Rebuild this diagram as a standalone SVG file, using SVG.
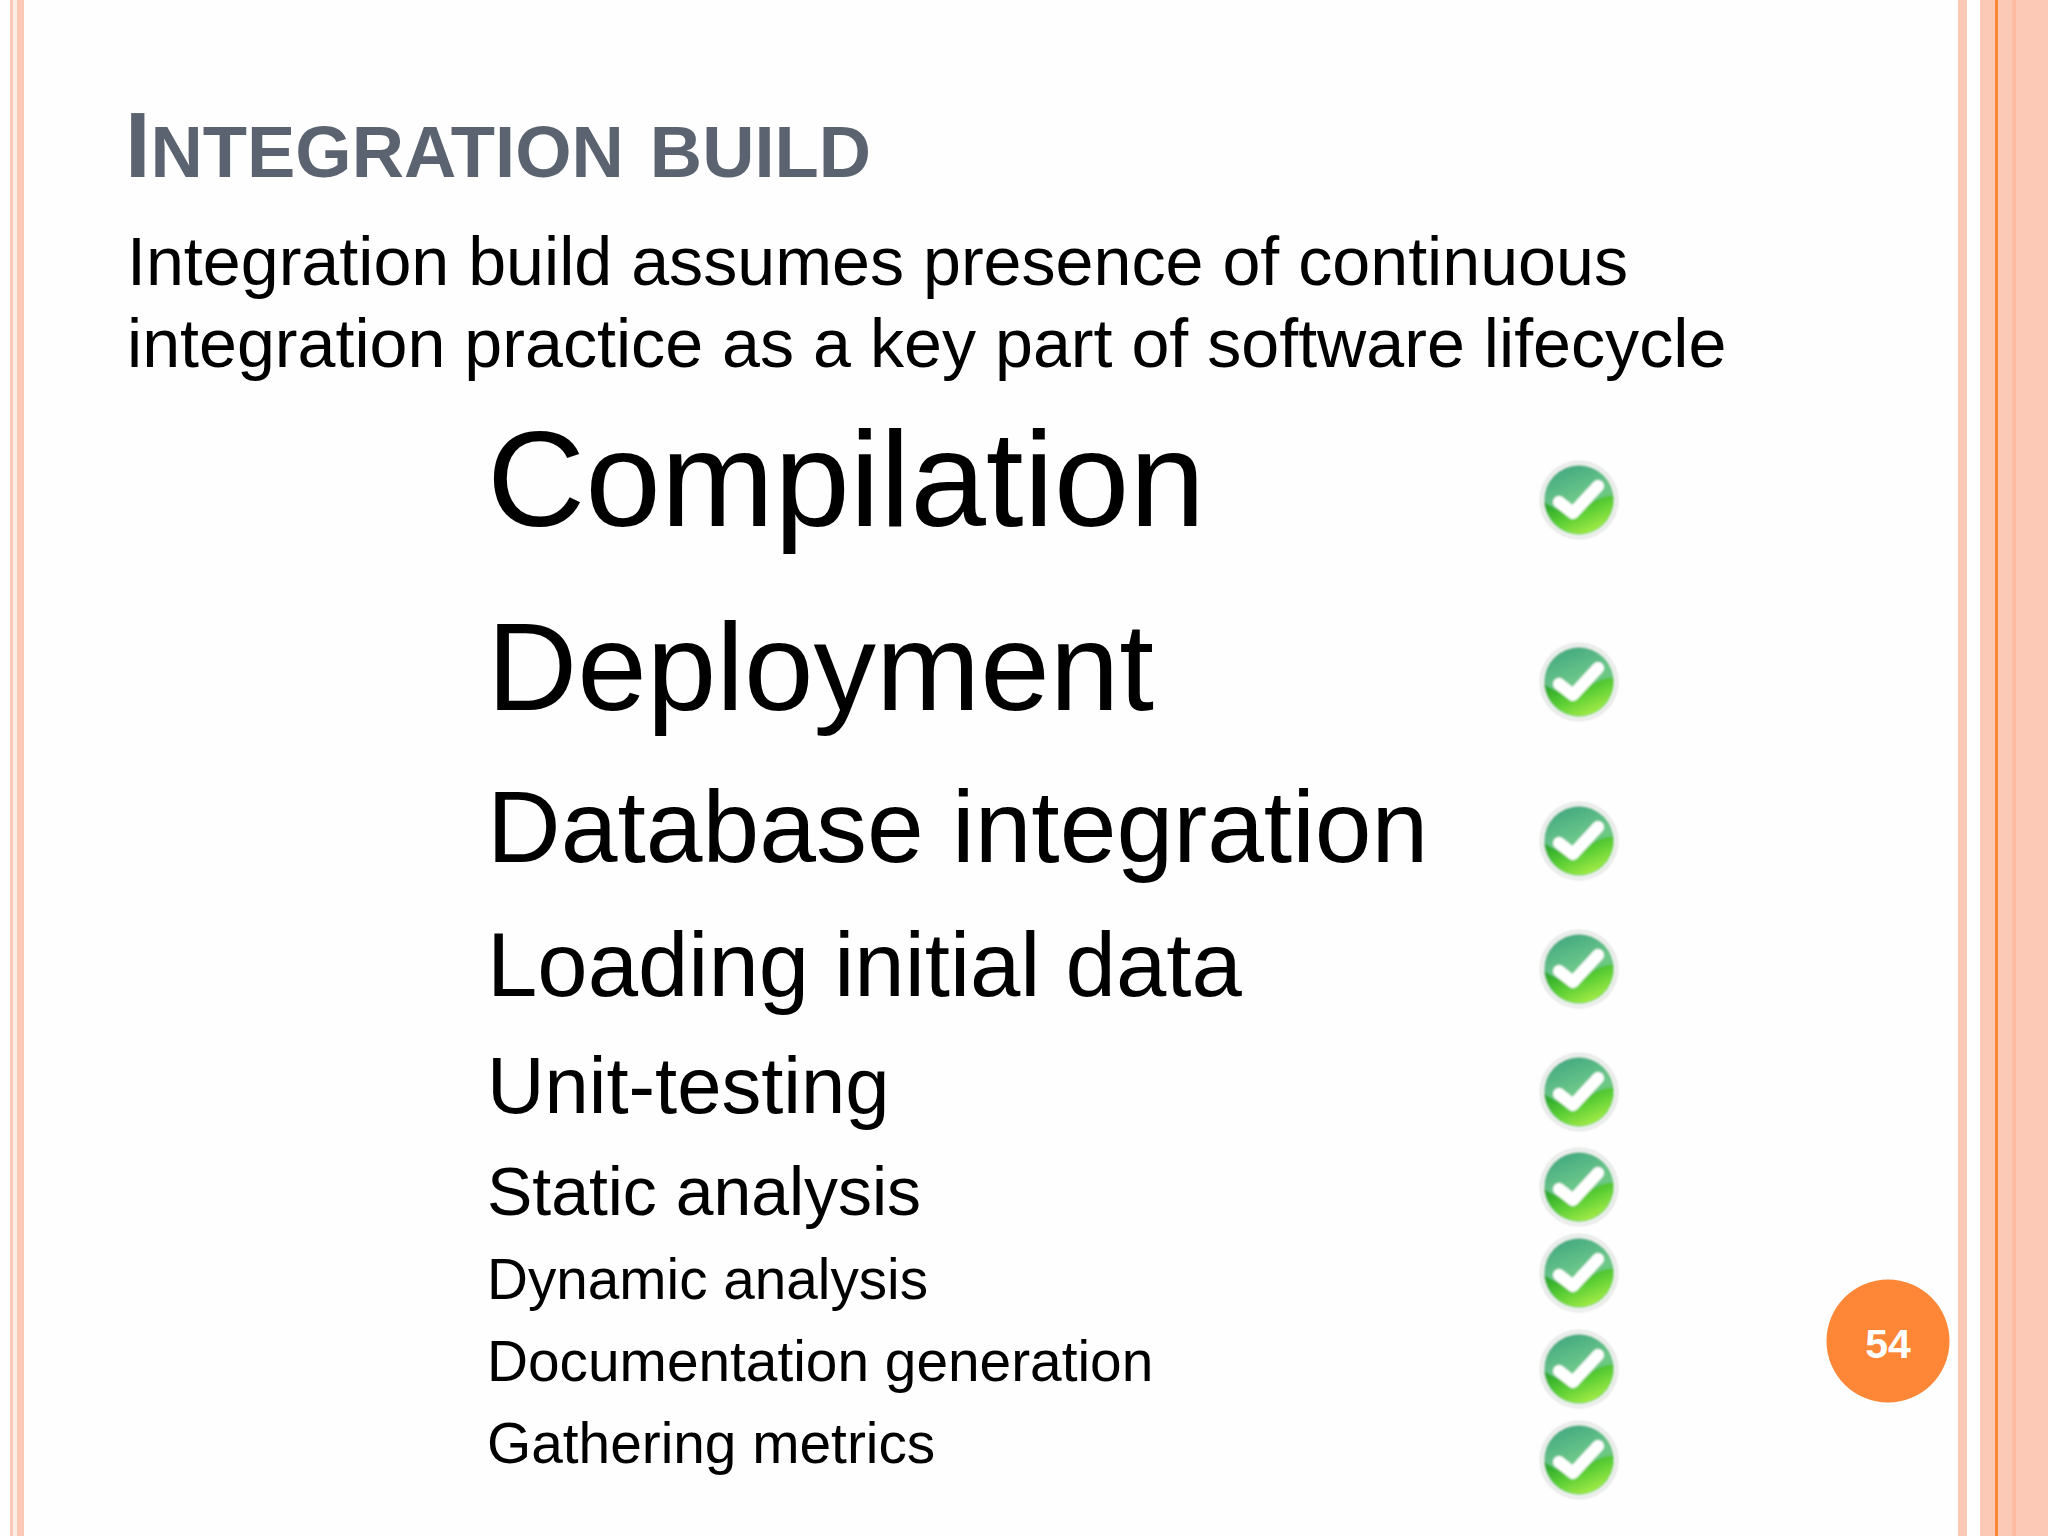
<svg xmlns="http://www.w3.org/2000/svg" width="2048" height="1536" viewBox="0 0 2048 1536">
<style>
.t{font-family:"Liberation Sans",Arial,sans-serif;fill:#000}
.b{fill:#fcc9b7}
</style>
<defs>
<filter id="soft" x="-20%" y="-20%" width="140%" height="140%"><feGaussianBlur stdDeviation="0.8"/></filter>
<linearGradient id="g1" x1="0.2" y1="0" x2="0.6" y2="1"><stop offset="0" stop-color="#3fa67f"/><stop offset="0.5" stop-color="#6cc78a"/><stop offset="1" stop-color="#6cc86a"/></linearGradient>
<linearGradient id="g2" x1="0.1" y1="0.1" x2="0.8" y2="1"><stop offset="0" stop-color="#22a128"/><stop offset="0.5" stop-color="#5fd035"/><stop offset="1" stop-color="#b4f24a"/></linearGradient>
<g id="chk" filter="url(#soft)">
<circle r="39" fill="#d8dbd9"/>
<circle r="37.500" fill="#f7f8f7"/>
<circle r="35" fill="url(#g1)"/>
<path d="M-35 2A35 35 0 0 0 35 -4C22 -6 8 6 -5 12C-16 12 -26 8 -35 2Z" fill="url(#g2)"/>
<path d="M-20 2L-6 13L19 -14" fill="none" stroke="#fff" stroke-width="12" stroke-linecap="round" stroke-linejoin="round"/>
</g>
</defs>
<rect width="2048" height="1536" fill="#fdfefd"/>
<rect class="b" x="10" y="0" width="3" height="1536"/>
<rect x="13" y="0" width="4" height="1536" fill="#fdeee8"/>
<rect class="b" x="17" y="0" width="7" height="1536"/>
<rect class="b" x="1958" y="0" width="9" height="1536"/>
<rect class="b" x="1980" y="0" width="68" height="1536"/>
<rect x="1995" y="0" width="3" height="1536" fill="#fe8637"/>
<rect x="2012" y="0" width="4" height="1536" fill="#fdbba2"/>
<text x="125" y="177" font-weight="700" font-size="72.400" word-spacing="6" class="t" style="fill:#5c6370"><tspan font-size="92">I</tspan>NTEGRATION BUILD</text>
<text x="127" y="285" font-size="68.200" class="t">Integration build assumes presence of continuous</text>
<text x="127" y="367" font-size="68.200" class="t">integration practice as a key part of software lifecycle</text>
<text x="487" y="526" font-size="136" class="t">Compilation</text>
<text x="487" y="710" font-size="125" class="t">Deployment</text>
<text x="487" y="862" font-size="102" class="t">Database integration</text>
<text x="487" y="996" font-size="90.500" class="t">Loading initial data</text>
<text x="487" y="1113" font-size="79.600" class="t">Unit-testing</text>
<text x="487" y="1215" font-size="67.900" class="t">Static analysis</text>
<text x="487" y="1299" font-size="56.700" class="t">Dynamic analysis</text>
<text x="487" y="1381" font-size="56.800" class="t">Documentation generation</text>
<text x="487" y="1463" font-size="56.800" class="t">Gathering metrics</text>
<g id="checks">
<use href="#chk" x="1579" y="500"/>
<use href="#chk" x="1579" y="682"/>
<use href="#chk" x="1579" y="841"/>
<use href="#chk" x="1579" y="969"/>
<use href="#chk" x="1579" y="1092"/>
<use href="#chk" x="1579" y="1187"/>
<use href="#chk" x="1579" y="1273"/>
<use href="#chk" x="1579" y="1369"/>
<use href="#chk" x="1579" y="1460"/>
</g>
<g id="page-number">
<circle cx="1888" cy="1341" r="61.500" fill="#fe8637"/>
<text x="1888" y="1358" text-anchor="middle" font-weight="700" font-size="41" class="t" style="fill:#fff">54</text>
</g>
</svg>
